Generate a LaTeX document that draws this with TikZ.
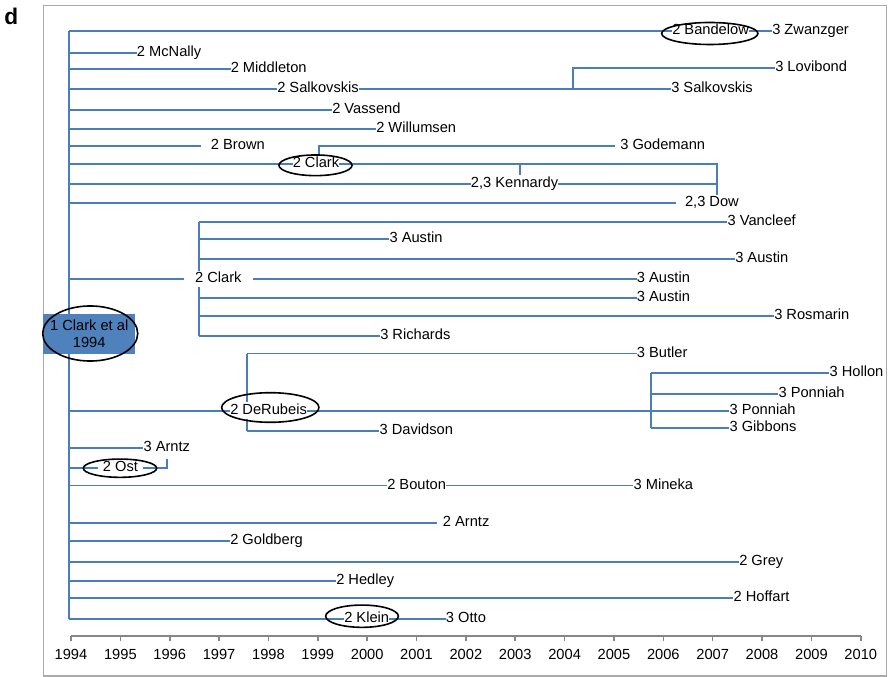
\documentclass[tikz,border=0pt]{standalone}
\usepackage{fontspec}
\setmainfont{Liberation Sans}
\usetikzlibrary{shapes.geometric,backgrounds}
\definecolor{xlblue}{RGB}{74,126,187}
\definecolor{rootblue}{RGB}{79,129,189}
\definecolor{axisgray}{RGB}{134,134,134}
\definecolor{framegray}{RGB}{170,170,170}

\begin{document}
\begin{tikzpicture}[
  x=0.75pt, y=-0.75pt,
  lbl/.style={anchor=west, fill=white, inner xsep=0pt, inner ysep=1pt, text height=8pt, text depth=2.6pt, font=\fontsize{11}{13}\selectfont},
  oval/.style={draw, ellipse, line width=1.2pt, inner sep=0pt},
  link/.style={draw=xlblue, line width=1.25pt},
  root/.style={fill=rootblue, align=center, inner sep=0pt, minimum width=68.8pt, minimum height=30pt, font=\fontsize{11}{12.5}\selectfont},
  yrlbl/.style={anchor=base, inner sep=0pt, font=\fontsize{11}{13}\selectfont},
  yearaxis/.style={draw=axisgray, line width=1.2pt}
]
\useasboundingbox (0,0) rectangle (888,677);
\draw[framegray, line width=0.9pt] (43.3,5.3) rectangle (886.5,676);

\node[anchor=base west, inner sep=0pt, font=\fontsize{17}{19}\selectfont\bfseries] (panel) at (4,25) {d};

\coordinate (trunk) at (68.7,0);
\coordinate (jSal) at (573.3,0);
\coordinate (jClk) at (319,0);
\coordinate (jTick) at (520,0);
\coordinate (jDow) at (716.7,0);
\coordinate (jCl2) at (199,0);
\coordinate (jDeR) at (246.7,0);
\coordinate (jPon) at (650.7,0);
\coordinate (jOst) at (166.7,459);

\node[lbl] (band2) at (672,30.7) {2 Bandelow};
\node[lbl] (zwan) at (772,30.7) {3 Zwanzger};
\node[lbl] (mcn) at (136.7,53.3) {2 McNally};
\node[lbl] (midd) at (230.5,69) {2 Middleton};
\node[lbl] (lovi) at (775,68) {3 Lovibond};
\node[lbl] (salk2) at (277,89) {2 Salkovskis};
\node[lbl] (salk3) at (671,89) {3 Salkovskis};
\node[lbl] (vass) at (332,109.7) {2 Vassend};
\node[lbl] (will) at (376,128.7) {2 Willumsen};
\node[lbl, inner xsep=7.5pt] (brown) at (200.7,145.7) {2 Brown};
\node[lbl, inner xsep=3.8pt] (gode) at (615,145.7) {3 Godemann};
\node[lbl] (clark1) at (292.5,164.3) {2 Clark};
\node[lbl] (kenn) at (470.7,183.7) {2,3 Kennardy};
\node[lbl, inner xsep=6.8pt] (dow) at (675.7,203.3) {2,3 Dow};
\node[lbl] (vanc) at (727.3,222) {3 Vancleef};
\node[lbl] (aust1) at (389.3,239) {3 Austin};
\node[lbl] (aust2) at (735,259) {3 Austin};
\node[lbl, inner xsep=8.3pt] (clark2) at (183.7,279) {2 Clark};
\node[lbl] (aust3) at (636.7,279) {3 Austin};
\node[lbl] (aust4) at (636.7,297.7) {3 Austin};
\node[lbl] (rosm) at (774,316) {3 Rosmarin};
\node[lbl] (rich) at (380,336) {3 Richards};
\node[lbl] (butl) at (636.7,353.5) {3 Butler};
\node[lbl] (holl) at (829.3,373.3) {3 Hollon};
\node[lbl] (ponn1) at (778.3,394.3) {3 Ponniah};
\node[lbl] (deru) at (230,410.7) {2 DeRubeis};
\node[lbl] (ponn2) at (729.3,410.7) {3 Ponniah};
\node[lbl] (gibb) at (729.3,427.7) {3 Gibbons};
\node[lbl] (davi) at (379.3,431) {3 Davidson};
\node[lbl] (arntz3) at (143.3,448) {3 Arntz};
\node[lbl, inner xsep=3.5pt] (ost) at (98,467.7) {2 Ost};
\node[lbl] (bout) at (387,485.6) {2 Bouton};
\node[lbl] (mine) at (633.3,485.6) {3 Mineka};
\node[lbl, inner xsep=4pt] (arntz2) at (437.3,523) {2 Arntz};
\node[lbl] (gold) at (230,540.7) {2 Goldberg};
\node[lbl] (grey) at (739,562) {2 Grey};
\node[lbl] (hedl) at (336,580.7) {2 Hedley};
\node[lbl] (hoff) at (733.3,598) {2 Hoffart};
\node[lbl] (klein) at (344,619.3) {2 Klein};
\node[lbl] (otto) at (445.7,619.3) {3 Otto};

\node[root] (rootbox) at (89.2,334) {1 Clark et al\\1994};
\node[oval, minimum width=71.3pt, minimum height=41.3pt] (ovRoot) at (90.2,333.5) {};
\node[oval, minimum width=72.2pt, minimum height=16.5pt] (ovBand) at (709.8,33.5) {};
\node[oval, minimum width=54.8pt, minimum height=15.5pt] (ovClark) at (315.5,165.3) {};
\node[oval, minimum width=73pt, minimum height=22.2pt] (ovDeRu) at (270.3,407.5) {};
\node[oval, minimum width=55pt, minimum height=13.7pt] (ovOst) at (120,468.2) {};
\node[oval, minimum width=54.5pt, minimum height=16.7pt] (ovKlein) at (362,616.2) {};

\begin{scope}[on background layer]
\draw[link] (trunk|-band2.west) -- (trunk|-klein.west);
\draw[link] (trunk|-band2.west) -- (band2.west);
\draw[link] (band2.east) -- (zwan.west);
\draw[link] (trunk|-mcn.west) -- (mcn.west);
\draw[link] (trunk|-midd.west) -- (midd.west);
\draw[link] (trunk|-salk2.west) -- (salk2.west);
\draw[link] (salk2.east) -- (salk3.west);
\draw[link] (jSal|-salk3.west) |- (lovi.west);
\draw[link] (trunk|-vass.west) -- (vass.west);
\draw[link] (trunk|-will.west) -- (will.west);
\draw[link] (trunk|-brown.west) -- (brown.west);
\draw[link] (jClk|-clark1.center) |- (gode.west);
\draw[link] (trunk|-clark1.west) -- (clark1.west);
\draw[link] (clark1.east) -| (jDow|-dow.center);
\draw[link] (jTick|-clark1.east) -- (jTick|-kenn.north);
\draw[link] (trunk|-kenn.west) -- (kenn.west);
\draw[link] (kenn.east) -- (jDow|-kenn.east);
\draw[link] (trunk|-dow.west) -- (dow.west);
\draw[link] (jCl2|-vanc.west) -- (jCl2|-rich.west);
\draw[link] (jCl2|-vanc.west) -- (vanc.west);
\draw[link] (jCl2|-aust1.west) -- (aust1.west);
\draw[link] (jCl2|-aust2.west) -- (aust2.west);
\draw[link] (trunk|-clark2.west) -- (clark2.west);
\draw[link] (clark2.east) -- (aust3.west);
\draw[link] (jCl2|-aust4.west) -- (aust4.west);
\draw[link] (jCl2|-rosm.west) -- (rosm.west);
\draw[link] (jCl2|-rich.west) -- (rich.west);
\draw[link] (jDeR|-butl.west) -- (jDeR|-davi.west);
\draw[link] (jDeR|-butl.west) -- (butl.west);
\draw[link] (jDeR|-davi.west) -- (davi.west);
\draw[link] (trunk|-deru.west) -- (deru.west);
\draw[link] (deru.east) -- (ponn2.west);
\draw[link] (jPon|-holl.west) -- (jPon|-gibb.west);
\draw[link] (jPon|-holl.west) -- (holl.west);
\draw[link] (jPon|-ponn1.west) -- (ponn1.west);
\draw[link] (jPon|-gibb.west) -- (gibb.west);
\draw[link] (trunk|-arntz3.west) -- (arntz3.west);
\draw[link] (trunk|-ost.west) -- (ost.west);
\draw[link] (ost.east) -| (jOst);
\draw[link] (trunk|-bout.west) -- (bout.west);
\draw[link] (bout.east) -- (mine.west);
\draw[link] (trunk|-arntz2.west) -- (arntz2.west);
\draw[link] (trunk|-gold.west) -- (gold.west);
\draw[link] (trunk|-grey.west) -- (grey.west);
\draw[link] (trunk|-hedl.west) -- (hedl.west);
\draw[link] (trunk|-hoff.west) -- (hoff.west);
\draw[link] (trunk|-klein.west) -- (klein.west);
\draw[link] (klein.east) -- (otto.west);
\end{scope}

\draw[yearaxis] (71,635.7) -- (860.7,635.7);
\foreach \yr in {1994,...,2010} {
  \draw[yearaxis] ({71+49.36*(\yr-1994)},635.7) -- ++(0,5);
  \node[yrlbl] (yr\yr) at ({71+49.36*(\yr-1994)},659.3) {\yr};
}

\end{tikzpicture}
\end{document}
